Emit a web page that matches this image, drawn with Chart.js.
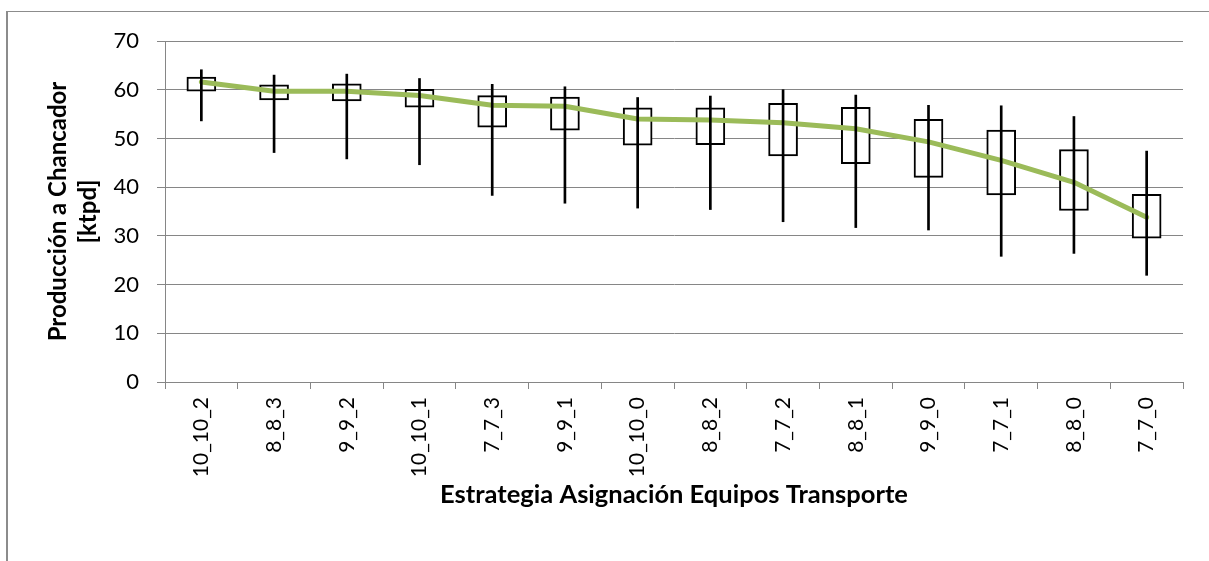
<!DOCTYPE html>
<html>
<head>
<meta charset="utf-8">
<script src="https://cdn.jsdelivr.net/npm/chart.js@4/dist/chart.umd.min.js"></script>
<style>
  html, body { margin: 0; padding: 0; background: #fff; }
  #wrap { position: relative; width: 1209px; height: 561px; }
  #frame { position: absolute; left: 6px; top: 11px; right: 0; bottom: 0;
           border-left: 2px solid #8c8c8c; border-top: 1px solid #8c8c8c; pointer-events: none; }
  canvas { position: absolute; left: 0; top: 0; }
</style>
</head>
<body>
<div id="wrap">
  <canvas id="chart" width="1209" height="561"></canvas>
  <div id="frame"></div>
</div>
<script>
// Estrategias de asignación de equipos de transporte
const categories = ['10_10_2', '8_8_3', '9_9_2', '10_10_1', '7_7_3', '9_9_1', '10_10_0',
                    '8_8_2', '7_7_2', '8_8_1', '9_9_0', '7_7_1', '8_8_0', '7_7_0'];

// Producción a chancador [ktpd]: mínimo, cuartil inferior, cuartil superior, máximo
const whiskerLow  = [53.6, 47.1, 45.8, 44.6, 38.3, 36.7, 35.7, 35.4, 32.9, 31.7, 31.2, 25.8, 26.4, 21.9];
const boxLow      = [59.7, 57.9, 57.7, 56.4, 52.3, 51.7, 48.6, 48.7, 46.4, 44.8, 42.0, 38.4, 35.2, 29.5];
const boxHigh     = [62.6, 61.0, 61.2, 60.1, 58.8, 58.5, 56.3, 56.3, 57.2, 56.4, 53.9, 51.7, 47.7, 38.5];
const whiskerHigh = [64.1, 63.0, 63.2, 62.3, 61.1, 60.6, 58.4, 58.7, 60.0, 58.9, 56.8, 56.7, 54.5, 47.4];
// Producción promedio
const average     = [61.6, 59.7, 59.7, 58.8, 56.8, 56.6, 54.0, 53.8, 53.2, 52.0, 49.3, 45.5, 41.0, 33.8];

const yTicks = [0, 10, 20, 30, 40, 50, 60, 70];

const whiskers = categories.map((_, i) => [whiskerLow[i], whiskerHigh[i]]);
const boxes    = categories.map((_, i) => [boxLow[i], boxHigh[i]]);

const FONT = 'Lato, "Open Sans", sans-serif';
const GRID = '#868686';

new Chart(document.getElementById('chart'), {
  type: 'bar',
  data: {
    labels: categories,
    datasets: [
      {
        type: 'bar',
        label: 'Rango',
        data: whiskers,
        grouped: false,
        barThickness: 2,
        backgroundColor: '#000',
        borderWidth: 0,
        order: 0
      },
      {
        type: 'line',
        label: 'Promedio',
        data: average,
        borderColor: '#9BBB59',
        borderWidth: 5,
        borderCapStyle: 'round',
        borderJoinStyle: 'round',
        pointRadius: 0,
        tension: 0,
        fill: false,
        order: 1
      },
      {
        type: 'bar',
        label: 'Cuartiles',
        data: boxes,
        grouped: false,
        barThickness: 29,
        backgroundColor: '#fff',
        borderColor: '#000',
        borderWidth: 2,
        borderSkipped: false,
        order: 2
      }
    ]
  },
  options: {
    responsive: false,
    animation: false,
    layout: { padding: { top: 41, right: 26, left: 0, bottom: 0 } },
    plugins: { legend: { display: false }, tooltip: { enabled: false } },
    scales: {
      x: {
        offset: true,
        grid: { offset: true, drawOnChartArea: false, drawTicks: true, tickLength: 7, color: GRID, lineWidth: 1 },
        border: { display: true, color: GRID, width: 1 },
        ticks: { minRotation: 90, maxRotation: 90, autoSkip: false, padding: 8, color: '#000',
                 font: { family: FONT, size: 21 } },
        title: { display: true, text: 'Estrategia Asignación Equipos Transporte', color: '#000',
                 font: { family: FONT, size: 25.5, weight: 'bold', lineHeight: 1.2 }, padding: { top: 0, bottom: 51 } },
        afterFit: (s) => { s.height = 179; }
      },
      y: {
        min: 0, max: 70,
        afterBuildTicks: (s) => { s.ticks = yTicks.map(v => ({ value: v })); },
        grid: { color: GRID, lineWidth: 1, tickLength: 8 },
        border: { display: true, color: GRID, width: 1 },
        ticks: { padding: 18, color: '#000', font: { family: FONT, size: 22 } },
        title: { display: true, text: ['Producción a Chancador', '[ktpd]'], color: '#000',
                 font: { family: FONT, size: 24, weight: 'bold', lineHeight: 1.25 }, padding: { top: 43, bottom: 0 } },
        afterFit: (s) => { s.width = 165; }
      }
    }
  }
});
</script>
</body>
</html>
